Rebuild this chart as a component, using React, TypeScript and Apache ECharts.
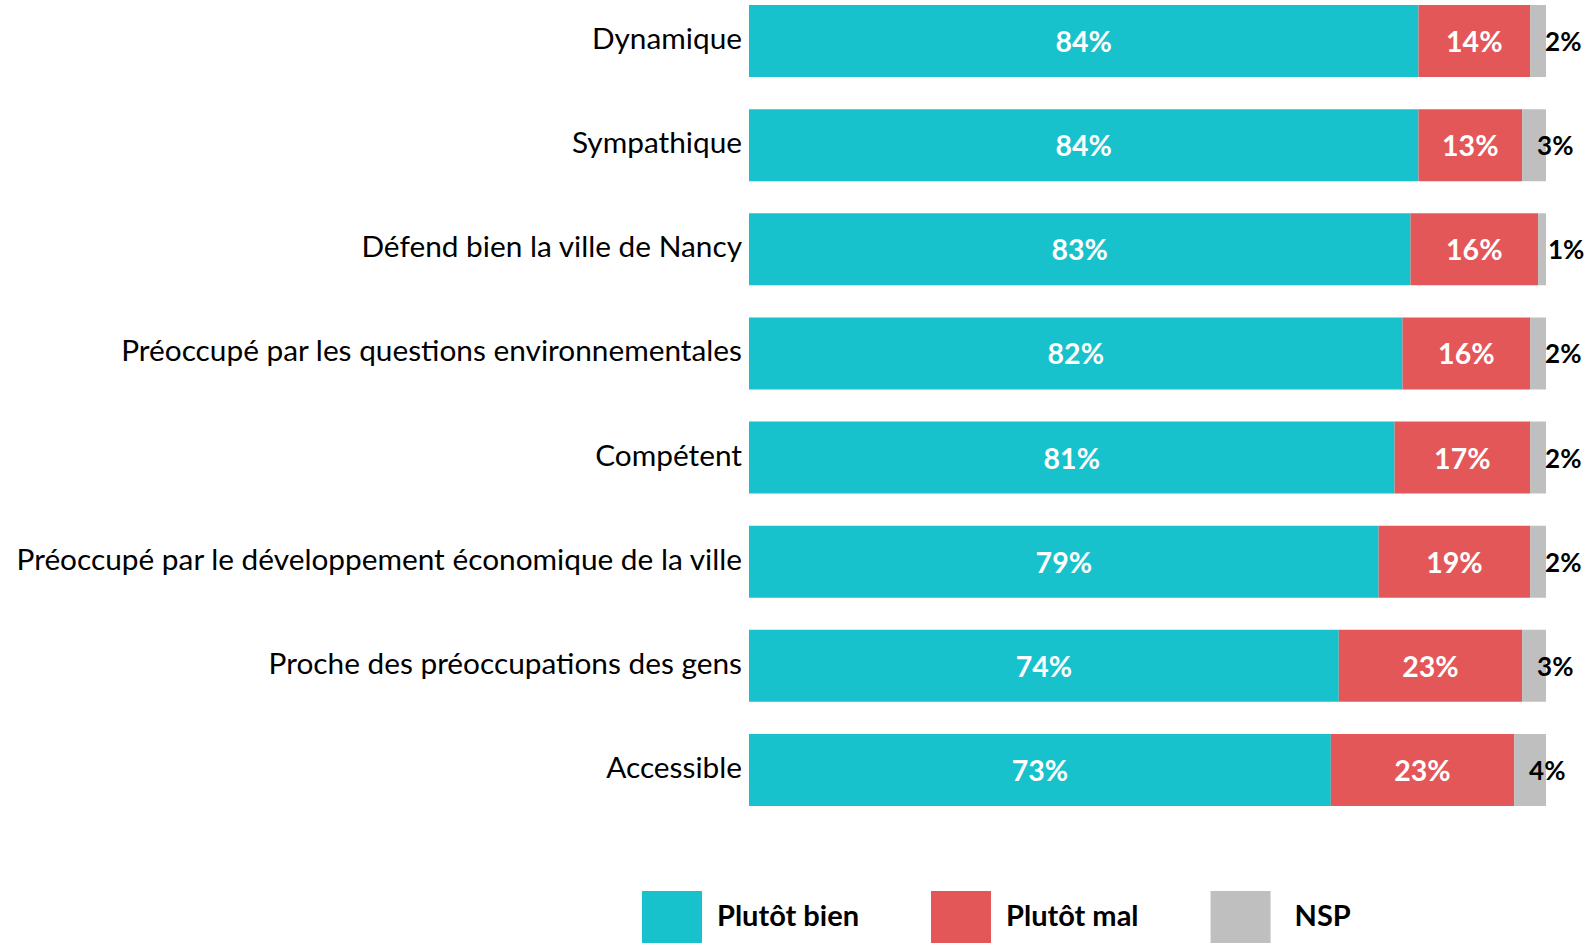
import React, { useEffect, useRef } from "react";
import * as echarts from "echarts";

const categories = [
  "Dynamique",
  "Sympathique",
  "Défend bien la ville de Nancy",
  "Préoccupé par les questions environnementales",
  "Compétent",
  "Préoccupé par le développement économique de la ville",
  "Proche des préoccupations des gens",
  "Accessible",
];
const plutotBien = [84, 84, 83, 82, 81, 79, 74, 73];
const plutotMal = [14, 13, 16, 16, 17, 19, 23, 23];
const nsp = [2, 3, 1, 2, 2, 2, 3, 4];
const seriesNames = ["Plutôt bien", "Plutôt mal", "NSP"];

const FONT = "Lato, 'Open Sans', sans-serif";

export default function App() {
  const ref = useRef<HTMLDivElement>(null);
  useEffect(() => {
    if (!ref.current) return;
    const chart = echarts.init(ref.current, undefined, { renderer: "svg" });
    const pct = (p: any) => p.value + "%";
    const valueLabel = (color: string, size: number) => ({
      show: true,
      position: "inside",
      color,
      fontWeight: "bold",
      fontSize: size,
      fontFamily: FONT,
      formatter: pct,
    });
    chart.setOption({
      animation: false,
      backgroundColor: "#ffffff",
      textStyle: { fontFamily: FONT },
      grid: { left: 749, right: 42, top: 41, height: 729, containLabel: false },
      xAxis: {
        type: "value",
        min: 0,
        max: 100,
        show: false,
      },
      yAxis: {
        type: "category",
        inverse: true,
        boundaryGap: false,
        data: categories,
        axisLine: { show: false },
        axisTick: { show: false },
        splitLine: { show: false },
        axisLabel: {
          margin: 7,
          fontSize: 29.8,
          color: "#000000",
          fontFamily: FONT,
          verticalAlign: "bottom",
          lineHeight: 7,
        },
      },
      legend: {
        left: 637,
        top: 886,
        itemWidth: 60,
        itemHeight: 60,
        itemGap: 72,
        icon: "rect",
        data: [
          { name: seriesNames[0] },
          { name: seriesNames[1] },
          { name: seriesNames[2], textStyle: { padding: [0, 0, 0, 19] } },
        ],
        formatter: (name: string) => `{a|${name}}\n{b| }`,
        textStyle: {
          fontSize: 29,
          fontWeight: "bold",
          color: "#000000",
          fontFamily: FONT,
          padding: [0, 0, 0, 10],
          rich: {
            a: {
              fontSize: 29,
              fontWeight: "bold",
              color: "#000000",
              fontFamily: FONT,
              lineHeight: 34,
            },
            b: { fontSize: 4, lineHeight: 14 },
          },
        },
      },
      series: [
        {
          name: seriesNames[0],
          type: "bar",
          stack: "total",
          barWidth: 72,
          data: plutotBien,
          itemStyle: { color: "#17C2CC" },
          label: valueLabel("#ffffff", 28.5),
        },
        {
          name: seriesNames[1],
          type: "bar",
          stack: "total",
          barWidth: 72,
          data: plutotMal,
          itemStyle: { color: "#E45758" },
          label: valueLabel("#ffffff", 28.5),
        },
        {
          name: seriesNames[2],
          type: "bar",
          stack: "total",
          barWidth: 72,
          data: nsp.map((v) => ({
            value: v,
            label: v < 2 ? { distance: 10 } : undefined,
          })),
          itemStyle: { color: "#BFBFBF" },
          label: {
            ...valueLabel("#000000", 26),
            position: "insideLeft",
            distance: 15,
          },
        },
      ],
    });
    return () => chart.dispose();
  }, []);
  return (
    <div
      ref={ref}
      style={{ position: "fixed", left: 0, top: 0, width: 1588, height: 943 }}
    />
  );
}
